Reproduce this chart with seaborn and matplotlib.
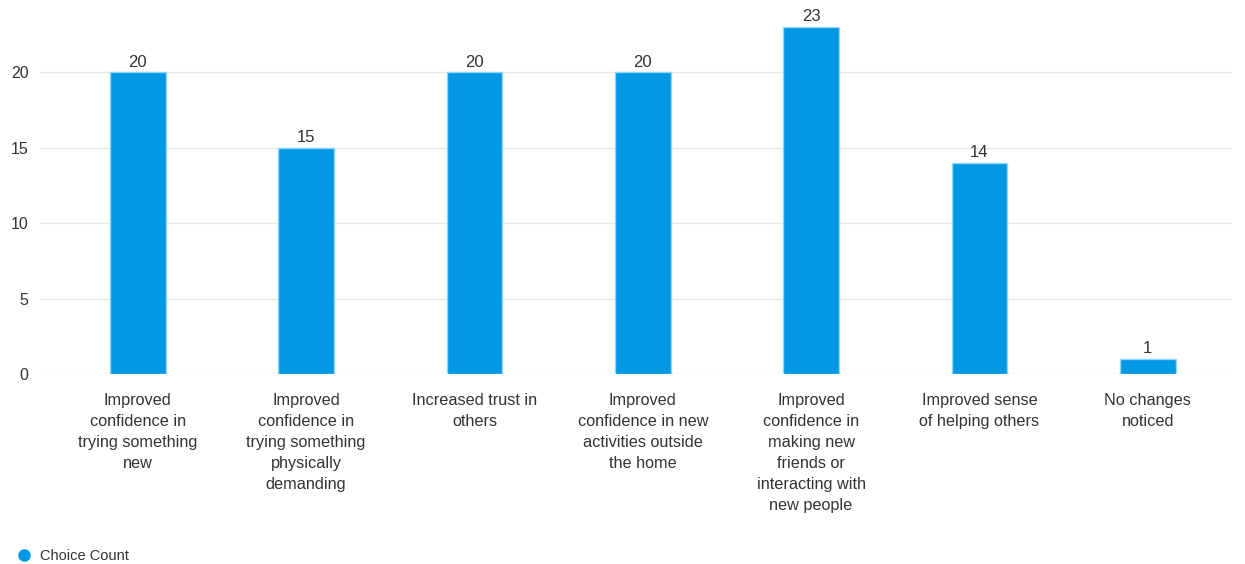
"""
Choice Count bar chart
"""

import pandas as pd
import matplotlib.pyplot as plt
import seaborn as sns
from matplotlib.lines import Line2D

# Data
categories = [
    "Improved\nconfidence in\ntrying something\nnew",
    "Improved\nconfidence in\ntrying something\nphysically\ndemanding",
    "Increased trust in\nothers",
    "Improved\nconfidence in new\nactivities outside\nthe home",
    "Improved\nconfidence in\nmaking new\nfriends or\ninteracting with\nnew people",
    "Improved sense\nof helping others",
    "No changes\nnoticed",
]
counts = [20, 15, 20, 20, 23, 14, 1]
series_name = "Choice Count"

BAR_COLOR = "#0399E2"
TEXT_COLOR = "#333333"

sns.set_theme(style="white")
plt.rcParams["font.family"] = ["Liberation Sans", "DejaVu Sans"]

df = pd.DataFrame({"category": categories, "count": counts})

fig = plt.figure(figsize=(12.45, 5.64), dpi=100)
ax = fig.add_axes([0.032, 0.337, 0.9575, 0.615])

sns.barplot(data=df, x="category", y="count", color=BAR_COLOR, width=0.33,
            edgecolor="#8fd6f7", linewidth=1, saturation=1, ax=ax, zorder=3)

# labels above bars
for container in ax.containers:
    labels = ax.bar_label(container, padding=2, fontsize=12, color=TEXT_COLOR)
    for t in labels:
        t.set_clip_on(False)

ax.set_ylim(0, 23)
ax.set_xlim(-0.582, 6.5)
ax.set_yticks([0, 5, 10, 15, 20])
ax.yaxis.grid(True, color="#e8e8e8", linewidth=1, zorder=0)
ax.set_axisbelow(True)
for s in ax.spines.values():
    s.set_visible(False)
ax.set_xlabel("")
ax.set_ylabel("")
ax.tick_params(axis="y", length=0, pad=8, labelsize=11.5, labelcolor=TEXT_COLOR)
ax.tick_params(axis="x", length=0, pad=14, labelsize=11.7, labelcolor=TEXT_COLOR)
for lbl in ax.get_xticklabels():
    lbl.set_linespacing(1.5)
    lbl.set_verticalalignment("top")

# legend
handle = Line2D([0], [0], marker="o", linestyle="", markersize=8,
                markerfacecolor=BAR_COLOR, markeredgecolor=BAR_COLOR)
fig.legend([handle], [series_name], loc="lower left", bbox_to_anchor=(0.003, -0.022),
           frameon=False, fontsize=10.5, labelcolor=TEXT_COLOR, handletextpad=0.6,
           handlelength=1.0)

fig.savefig("out.png", dpi=100)
